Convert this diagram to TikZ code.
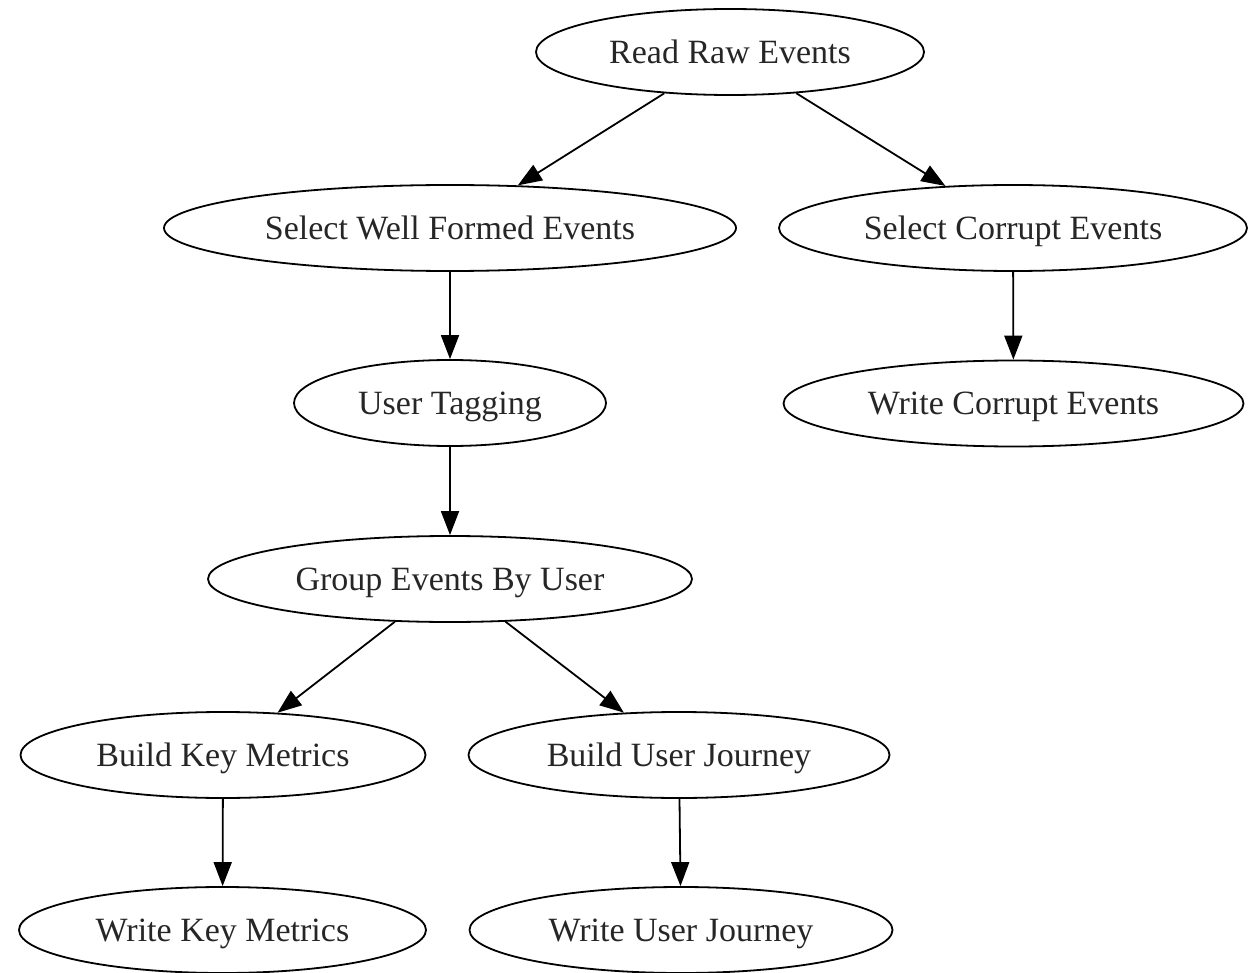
\documentclass[tikz,border=0pt]{standalone}
\usepackage{fontspec}
\setmainfont{Liberation Serif}
\usetikzlibrary{shapes.geometric,arrows.meta}
\begin{document}
\begin{tikzpicture}[x=1pt,y=-1pt,
  stage/.style={ellipse,draw,line width=1.8pt,inner sep=0pt,minimum height=86pt,
    text=black!85,font=\fontsize{34}{40}\selectfont,text height=22.5pt,text depth=0pt},
  flow/.style={line width=1.8pt,-{Triangle[length=24pt,width=18pt]}}]
\useasboundingbox (0,0) rectangle (1258,973);
% pipeline stages
\node[stage,minimum width=388pt] (read) at (730,52)    {Read Raw Events};
\node[stage,minimum width=572pt] (swf)  at (450,228)   {Select Well Formed Events};
\node[stage,minimum width=468pt] (sce)  at (1013,228)  {Select Corrupt Events};
\node[stage,minimum width=312pt] (ut)   at (450,403)   {User Tagging};
\node[stage,minimum width=460pt] (wce)  at (1013.5,403.5) {Write Corrupt Events};
\node[stage,minimum width=484pt] (geu)  at (450,579)   {Group Events By User};
\node[stage,minimum width=405pt] (bkm)  at (223,755)   {Build Key Metrics};
\node[stage,minimum width=421pt] (buj)  at (679,755)   {Build User Journey};
\node[stage,minimum width=407pt] (wkm)  at (222.5,930) {Write Key Metrics};
\node[stage,minimum width=423pt] (wuj)  at (681,930)   {Write User Journey};
% data flow
\draw[flow] (read) -- (swf);
\draw[flow] (read) -- (sce);
\draw[flow] (swf) -- (ut);
\draw[flow] (sce) -- (wce);
\draw[flow] (ut) -- (geu);
\draw[flow] (geu) -- (bkm);
\draw[flow] (geu) -- (buj);
\draw[flow] (bkm) -- (wkm);
\draw[flow] (buj) -- (wuj);
\end{tikzpicture}
\end{document}
